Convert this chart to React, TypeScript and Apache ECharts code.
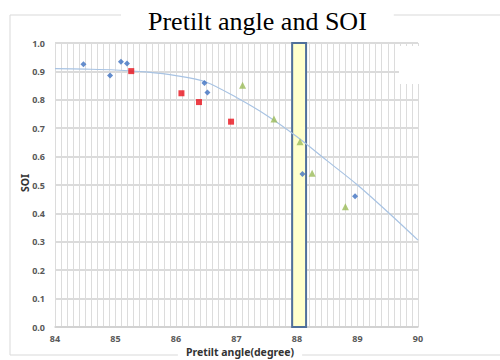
import React, { useEffect, useRef } from "react";
import * as echarts from "echarts";

const blueSeries: [number, number][] = [
  [84.47, 0.925], [84.91, 0.886], [85.09, 0.934], [85.19, 0.928],
  [86.47, 0.859], [86.52, 0.826], [88.09, 0.539], [88.96, 0.46],
];
const redSeries: [number, number][] = [
  [85.26, 0.901], [86.09, 0.823], [86.38, 0.792], [86.91, 0.723],
];
const greenSeries: [number, number][] = [
  [87.1, 0.851], [87.62, 0.732], [88.05, 0.652], [88.25, 0.541], [88.8, 0.423],
];
const trendCurve: [number, number][] = [
  [84, 0.91], [84.5, 0.908], [85, 0.905], [85.5, 0.898], [86, 0.885],
  [86.5, 0.862], [87, 0.808], [87.5, 0.745], [88, 0.67], [88.5, 0.585],
  [89, 0.5], [89.5, 0.405], [90, 0.306],
];
const bandRange: [number, number] = [87.92, 88.15];

export default function App() {
  const ref = useRef<HTMLDivElement>(null);
  useEffect(() => {
    if (!ref.current) return;
    const chart = echarts.init(ref.current, null, { renderer: "svg" });
    const labelFont = { fontFamily: "Noto Sans", fontWeight: "bold" as const, fontSize: 9, color: "#595959" };
    chart.setOption({
      animation: false,
      backgroundColor: "#fff",
      title: {
        text: "Pretilt angle and SOI",
        left: 121,
        top: 8,
        padding: [0, 27],
        backgroundColor: "#fff",
        textStyle: { fontFamily: "Liberation Serif", fontWeight: "normal", fontSize: 26, color: "#000" },
      },
      graphic: [
        { type: "rect", z: -10, shape: { x: 10, y: 15, width: 600, height: 340 }, style: { fill: "none", stroke: "#d9d9d9", lineWidth: 1 } },
        { type: "rect", z: 10, shape: { x: 399, y: 46, width: 22, height: 38 }, style: { fill: "#fff" } },
        {
          type: "text", z: 10, x: 240, y: 346,
          style: { text: "Pretilt angle(degree)", font: "bold 10.5px 'Noto Sans'", fill: "#333", align: "center", verticalAlign: "top", backgroundColor: "#fff", padding: [0, 8] },
        },
        {
          type: "text", z: 10, x: 25, y: 183, rotation: Math.PI / 2,
          style: { text: "SOI", font: "bold 10.5px 'Noto Sans'", fill: "#333", align: "center", verticalAlign: "middle" },
        },
      ],
      grid: { left: 55, right: 82, top: 43, bottom: 33 },
      xAxis: {
        type: "value", min: 84, max: 90, interval: 1,
        axisLine: { show: true, lineStyle: { color: "#cfcfcf", width: 1.5 } },
        axisTick: { show: false },
        axisLabel: { ...labelFont, margin: 7 },
        splitLine: { show: true, lineStyle: { color: "#dcdcdc", width: 1 } },
        minorTick: { show: false, splitNumber: 10 },
        minorSplitLine: { show: true, lineStyle: { color: "#dcdcdc", width: 1 } },
      },
      yAxis: {
        type: "value", min: 0, max: 1, interval: 0.1,
        axisLine: { show: false },
        axisTick: { show: false },
        axisLabel: { ...labelFont, margin: 10, formatter: (v: number) => v.toFixed(1) },
        splitLine: { show: true, lineStyle: { color: "#cfcfcf", width: 1.5 } },
      },
      series: [
        {
          type: "line", data: [], z: 1,
          markArea: {
            silent: true,
            itemStyle: { color: "#ffffcc", borderColor: "#50709a", borderWidth: 2 },
            data: [[{ xAxis: bandRange[0], yAxis: 0 }, { xAxis: bandRange[1], yAxis: 1 }]],
          },
        },
        {
          type: "line", data: trendCurve, smooth: 0.3, showSymbol: false, z: 2,
          lineStyle: { color: "#a8c3e3", width: 1.2 },
        },
        {
          type: "scatter", data: blueSeries, symbol: "diamond", symbolSize: 6, z: 3,
          itemStyle: { color: "#3d70c0" },
        },
        {
          type: "scatter", data: redSeries, symbol: "rect", symbolSize: 6, z: 3,
          itemStyle: { color: "#e8101a" },
        },
        {
          type: "scatter", data: greenSeries, symbol: "triangle", symbolSize: 7, z: 3,
          itemStyle: { color: "#9bbb59" },
        },
      ],
    });
    return () => chart.dispose();
  }, []);
  return <div ref={ref} style={{ width: 500, height: 360, position: "absolute", left: 0, top: 0 }} />;
}
